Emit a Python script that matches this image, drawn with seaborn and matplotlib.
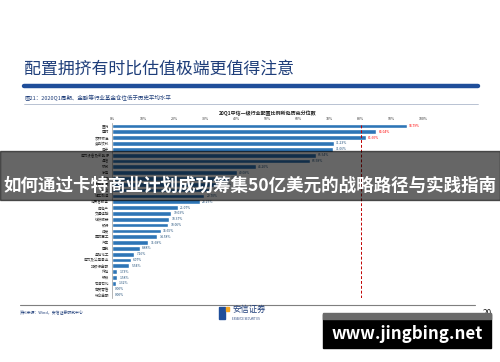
import numpy as np
import pandas as pd
import matplotlib
matplotlib.use('Agg')
import matplotlib.pyplot as plt
import seaborn as sns
from matplotlib.patches import Rectangle

sns.set_style("white")
plt.rcParams['font.family'] = ['Noto Sans CJK SC', 'DejaVu Sans']
plt.rcParams['axes.unicode_minus'] = False

industries = ['医药', '建材', '农林牧渔', '食品饮料', '电子', '电力设备及新能源', '通信', '机械',
              '家电', '计算机', '有色金属', '综合', '轻工制造', '消费者服务', '房地产', '交通运输',
              '纺织服装', '银行', '煤炭', '国防军工', '汽车', '建筑', '基础化工', '电力及公用事业',
              '非银行金融', '传媒', '钢铁', '石油石化', '商贸零售', '综合金融']
percentiles = [94.79, 85.04, 81.60, 71.23, 71.06, 65.54, 63.58, 46.20, 40.08, 37.50, 34.20, 31.60,
               29.70, 28.25, 21.07, 19.03, 18.37, 18.06, 15.65, 14.58, 11.68, 8.88, 7.16, 6.07,
               5.54, 1.73, 1.58, 1.32, 0.00, 0.00]
xticks = [0, 10, 20, 30, 40, 50, 60, 70, 80, 90, 100]
threshold = 80

df = pd.DataFrame({'行业': industries, '分位数': percentiles})

fig = plt.figure(figsize=(5, 3.62), dpi=100)
fig.patch.set_facecolor('white')

# 页面标题
fig.text(0.048, 0.81, '配置拥挤有时比估值极端更值得注意', fontsize=12.2, color='#1F3E7A',
         va='center', ha='left')
fig.add_artist(plt.Line2D([0.048, 0.955], [0.762, 0.762], color='#1F4E9A', lw=3.2))
fig.text(0.05, 0.728, '图21：2020Q1周期、金融等行业基金仓位低于历史平均水平', fontsize=4,
         color='#1F3E7A', va='center', ha='left')
fig.add_artist(plt.Line2D([0.048, 0.955], [0.713, 0.713], color='#9DA9C0', lw=0.5))

ax = fig.add_axes([0.224, 0.177, 0.622, 0.483])
sns.barplot(data=df, y='行业', x='分位数', orient='h', color='#2E75B6', width=0.82,
            saturation=1, ax=ax)
ax.set_xlim(0, 100)
ax.xaxis.tick_top()
ax.set_xticks(xticks)
ax.set_xticklabels([f'{t}%' for t in xticks], fontsize=2.6, color='#333333')
ax.tick_params(axis='x', length=0, pad=1.5)
ax.tick_params(axis='y', length=0, pad=2, labelsize=2.6, labelcolor='#333333')
ax.set_xlabel('')
ax.set_ylabel('')
for s in ['top', 'right', 'bottom']:
    ax.spines[s].set_visible(False)
ax.spines['left'].set_color('#999999')
ax.spines['left'].set_linewidth(0.5)
ax.axvline(threshold, color='#C00000', ls=(0, (3, 2)), lw=0.7)

for i, v in enumerate(percentiles):
    c = '#FF0000' if v > threshold else '#1F4E79'
    ax.text(v + 0.8, i, f'{v:.2f}%', fontsize=2.4, color=c, va='center', ha='left')

ax.set_title('20Q1中信一级行业配置比例所处历史分位数', fontsize=3.6, color='#222222', pad=6,
             fontweight='bold')

# 底部
fig.add_artist(plt.Line2D([0.04, 0.95], [0.158, 0.158], color='#7F7F7F', lw=0.8))
fig.text(0.04, 0.135, '资料来源：Wind，安信证券研究中心', fontsize=2.8, color='#1F3E7A', va='center')
fig.add_artist(Rectangle((0.438, 0.118), 0.012, 0.035, transform=fig.transFigure,
                         color='#1F4E9A'))
fig.add_artist(Rectangle((0.452, 0.14), 0.006, 0.012, transform=fig.transFigure,
                         color='#F5A623'))
fig.text(0.465, 0.145, '安信证券', fontsize=6, color='#1F3E7A', va='center')
fig.text(0.465, 0.118, 'ESSENCE SECURITIES', fontsize=2, color='#1F3E7A', va='center')
fig.text(0.975, 0.135, '20', fontsize=6, color='#222222', ha='center', va='center')

# 横幅
fig.add_artist(Rectangle((0, 0.448), 1, 0.136, transform=fig.transFigure,
                         color='black', alpha=0.6, zorder=10))
fig.text(0.5, 0.486, '如何通过卡特商业计划成功筹集50亿美元的战略路径与实践指南',
         fontsize=12.6, color='white', fontweight='bold', ha='center', va='center', zorder=11)

# 水印
fig.add_artist(Rectangle((0.646, 0.04), 0.336, 0.092, transform=fig.transFigure,
                         color='black', zorder=10))
fig.add_artist(Rectangle((0.646, 0.118), 0.336, 0.016, transform=fig.transFigure,
                         color='#6A6A6A', zorder=10))
fig.text(0.814, 0.076, 'www.jingbing.net', fontsize=12.2, color='white', fontweight='bold',
         ha='center', va='center', zorder=11)

fig.savefig('out.png', dpi=100)
